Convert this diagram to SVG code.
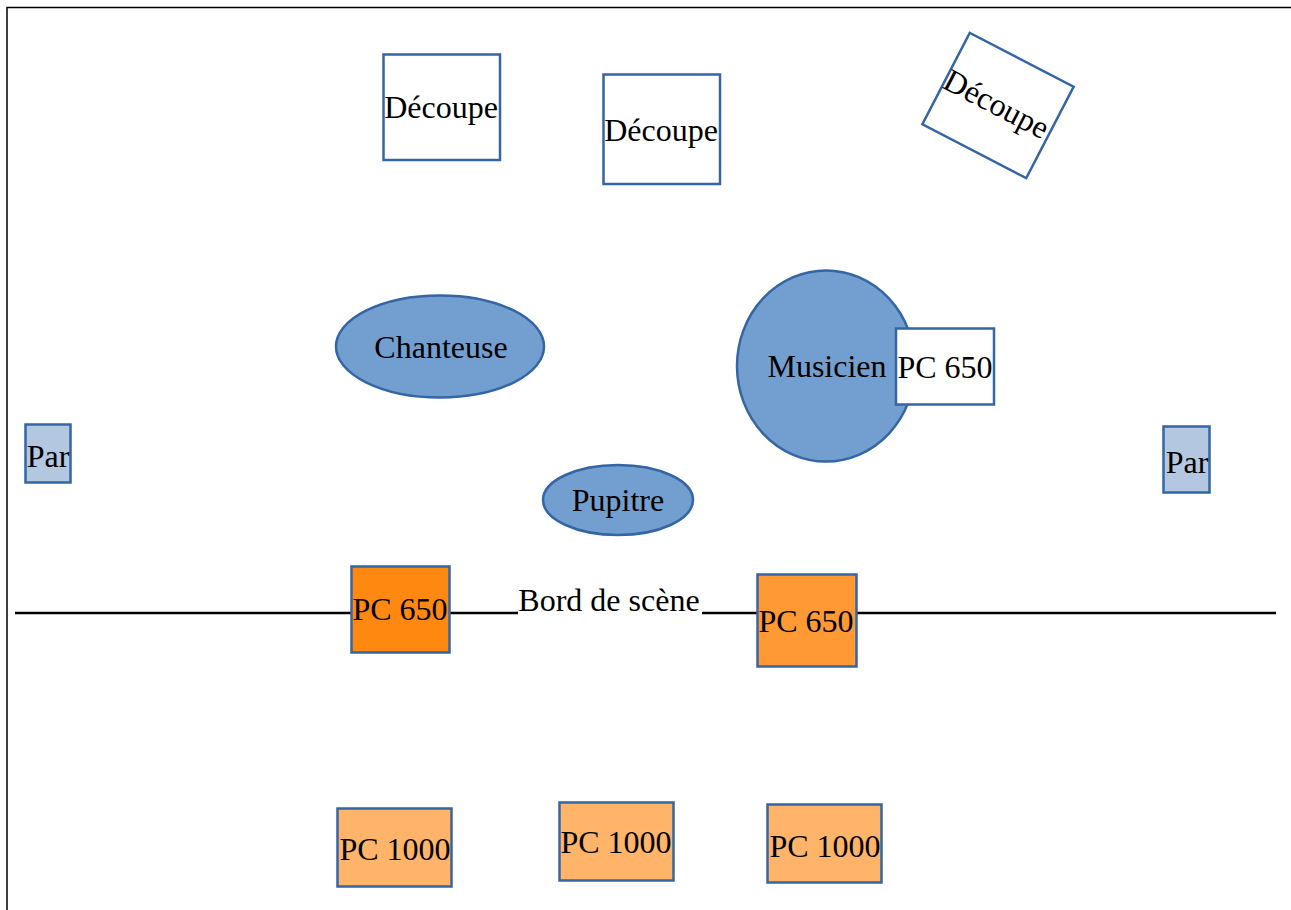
<svg xmlns="http://www.w3.org/2000/svg" width="1291" height="910" viewBox="0 0 1291 910">
<style>
text{font-family:"Liberation Serif","Times New Roman",serif;font-size:32px;fill:#000;text-anchor:middle}
.box{stroke:#3465a4;stroke-width:2.5}
.w{fill:#fff}
.par{fill:#b4c7e0}
.blue{fill:#729fcf}
.o1{fill:#ff8811}
.o2{fill:#ff9933}
.o3{fill:#ffb469}
.edge{stroke:#000;stroke-width:2.6;fill:none}
</style>
<rect width="1291" height="910" fill="#fff"/>
<path d="M7,910 V7.5 H1291" stroke="#000" stroke-width="1.5" fill="none"/>
<g id="connectors">
<line class="edge" x1="15" y1="613" x2="352" y2="613"/>
<line class="edge" x1="450" y1="613" x2="518" y2="613"/>
<line class="edge" x1="702" y1="613" x2="758" y2="613"/>
<line class="edge" x1="856" y1="613" x2="1276" y2="613"/>
</g>
<g id="bord"><text x="609" y="611">Bord de scène</text></g>
<g id="decoupe1"><rect class="box w" x="383.5" y="54.5" width="116.5" height="105.5"/><text x="441" y="118">Découpe</text></g>
<g id="decoupe2"><rect class="box w" x="603.5" y="74.5" width="116.5" height="109.5"/><text x="661" y="141">Découpe</text></g>
<g id="decoupe3" transform="translate(998,105.5) rotate(27.4)"><rect class="box w" x="-58.5" y="-51.5" width="117" height="103"/><text x="-2" y="10">Découpe</text></g>
<g id="chanteuse"><ellipse class="box blue" cx="440" cy="346.5" rx="104" ry="51"/><text x="441" y="358">Chanteuse</text></g>
<g id="musicien"><ellipse class="box blue" cx="826" cy="366" rx="89" ry="95.5"/><text x="827" y="377">Musicien</text></g>
<g id="pc650-musicien"><rect class="box w" x="896" y="328.5" width="98" height="76"/><text x="945" y="378">PC 650</text></g>
<g id="par-left"><rect class="box par" x="25.5" y="424.5" width="45" height="58"/><text x="48" y="467">Par</text></g>
<g id="par-right"><rect class="box par" x="1163.5" y="426.5" width="46" height="66"/><text x="1187" y="473">Par</text></g>
<g id="pupitre"><ellipse class="box blue" cx="618" cy="500" rx="75" ry="35"/><text x="618" y="511">Pupitre</text></g>
<g id="pc650-left"><rect class="box o1" x="351.5" y="566.5" width="98" height="86"/><text x="400" y="620">PC 650</text></g>
<g id="pc650-right"><rect class="box o2" x="757.5" y="574.5" width="99" height="92"/><text x="806" y="632">PC 650</text></g>
<g id="pc1000-1"><rect class="box o3" x="337.5" y="808.5" width="114" height="78"/><text x="395" y="860">PC 1000</text></g>
<g id="pc1000-2"><rect class="box o3" x="559.5" y="802.5" width="114" height="78"/><text x="616" y="853">PC 1000</text></g>
<g id="pc1000-3"><rect class="box o3" x="767.5" y="804.5" width="114" height="78"/><text x="825" y="857">PC 1000</text></g>
</svg>
